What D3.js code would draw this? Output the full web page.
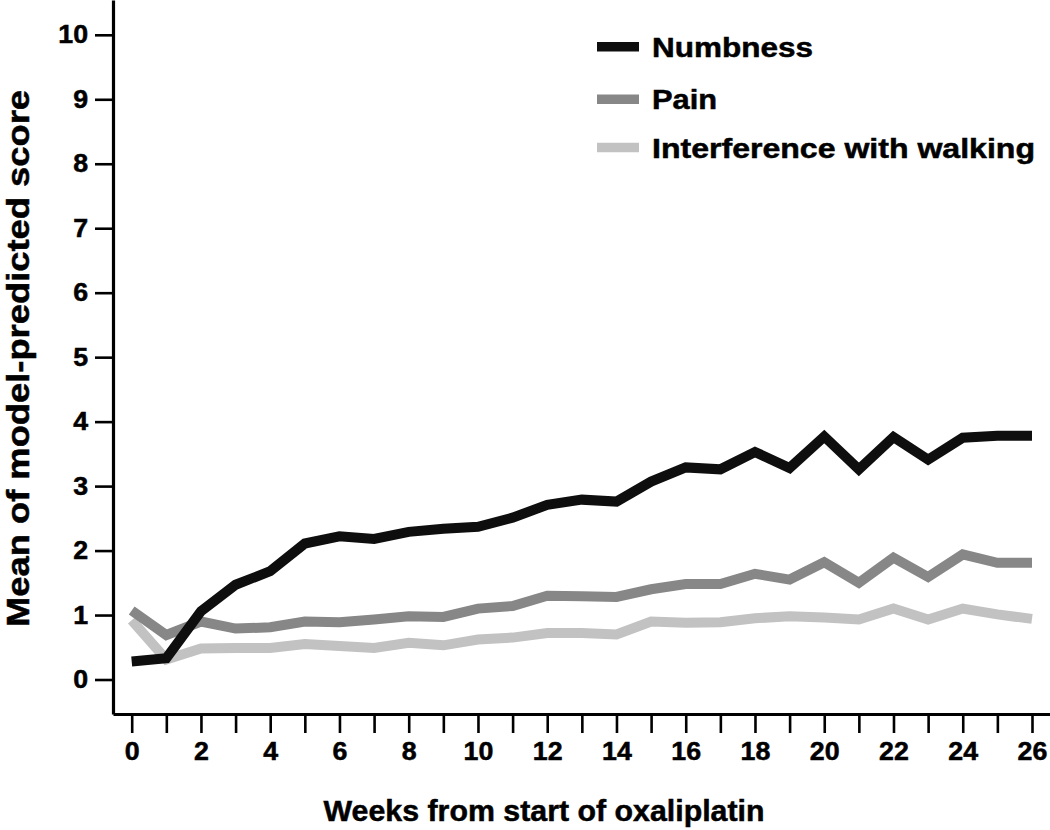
<!DOCTYPE html>
<html>
<head>
<meta charset="utf-8">
<script src="https://cdn.jsdelivr.net/npm/d3@7"></script>
<style>
  html, body { margin: 0; padding: 0; background: #fff; }
  svg { display: block; }
  text { font-family: "Liberation Sans", Arial, sans-serif; font-weight: bold; fill: #000; stroke: #000; stroke-width: 0.5px; }
</style>
</head>
<body>
<script>
// ---- data ----
const weeks = d3.range(0, 27);
const numbness = [0.28,0.33,1.06,1.47,1.68,2.11,2.22,2.18,2.29,2.34,2.37,2.51,2.71,2.79,2.76,3.07,3.29,3.26,3.53,3.28,3.77,3.26,3.76,3.41,3.75,3.78,3.78];
const pain = [1.07,0.69,0.90,0.79,0.81,0.90,0.89,0.93,0.98,0.97,1.10,1.14,1.30,1.29,1.28,1.40,1.48,1.48,1.64,1.55,1.82,1.50,1.89,1.59,1.94,1.81,1.81];
const interference = [0.92,0.31,0.48,0.49,0.49,0.55,0.52,0.49,0.57,0.53,0.62,0.65,0.72,0.72,0.70,0.90,0.88,0.89,0.95,0.98,0.96,0.93,1.10,0.93,1.10,1.01,0.94];
const seriesNames = ["Numbness", "Pain", "Interference with walking"];
const seriesValues = [numbness, pain, interference];
const seriesColors = ["#0e0e0e", "#878787", "#c2c2c2"];
const yTicks = d3.range(0, 11);
const xTicks = d3.range(0, 27);
const xTitle = "Weeks from start of oxaliplatin";
const yTitle = "Mean of model-predicted score";

// ---- layout ----
const W = 1050, H = 830;
const svg = d3.select("body").append("svg").attr("width", W).attr("height", H);

const x = d3.scaleLinear().domain([-0.54, 26.52]).range([113, 1050]);
const y = d3.scaleLinear().domain([-0.535, 10.54]).range([714, 0]);

function stretch(sel, f) {
  sel.each(function () {
    const l = this.getComputedTextLength();
    d3.select(this).attr("textLength", l * f).attr("lengthAdjust", "spacingAndGlyphs");
  });
}

// y axis
const gy = svg.append("g").attr("transform", "translate(113,0)")
  .call(d3.axisLeft(y).tickValues(yTicks).tickSize(18).tickSizeOuter(0).tickPadding(7).tickFormat(d3.format("d")));
gy.select(".domain").attr("stroke", "#000").attr("stroke-width", 3.2);
gy.selectAll(".tick line").attr("stroke", "#000").attr("stroke-width", 2.6);
gy.selectAll(".tick text").style("font-size", "25px").attr("fill", "#000");
stretch(gy.selectAll(".tick text"), 1.07);

// x axis
const gx = svg.append("g").attr("transform", "translate(0,714)")
  .call(d3.axisBottom(x).tickValues(xTicks).tickSize(19).tickSizeOuter(0).tickPadding(9)
    .tickFormat(d => d % 2 === 0 ? d : ""));
gx.select(".domain").attr("stroke", "#000").attr("stroke-width", 3.2);
gx.selectAll(".tick line").attr("stroke", "#000").attr("stroke-width", 2.6);
gx.selectAll(".tick text").style("font-size", "25px").attr("fill", "#000");
stretch(gx.selectAll(".tick text").filter(function () { return this.textContent !== ""; }), 1.07);

// lines (draw lightest first so black is on top)
const line = d3.line().x((d, i) => x(weeks[i])).y(d => y(d));
const order = [2, 1, 0];
order.forEach(k => {
  svg.append("path")
    .datum(seriesValues[k])
    .attr("d", line)
    .attr("fill", "none")
    .attr("stroke", seriesColors[k])
    .attr("stroke-width", 10)
    .attr("stroke-linejoin", "miter")
    .attr("stroke-linecap", "butt");
});

// legend
const legendY = [46.7, 99.3, 147.6];
const legendText = [161, 65, 383];
const lg = svg.append("g");
seriesNames.forEach((name, i) => {
  lg.append("line")
    .attr("x1", 597).attr("x2", 639)
    .attr("y1", legendY[i]).attr("y2", legendY[i])
    .attr("stroke", seriesColors[i]).attr("stroke-width", 9.5);
  lg.append("text")
    .attr("x", 652).attr("y", legendY[i] + 10)
    .style("font-size", "27px")
    .attr("textLength", legendText[i]).attr("lengthAdjust", "spacingAndGlyphs")
    .text(name);
});

// axis titles
svg.append("text")
  .attr("x", 544).attr("y", 821)
  .attr("text-anchor", "middle")
  .style("font-size", "30px")
  .attr("textLength", 441).attr("lengthAdjust", "spacingAndGlyphs")
  .text(xTitle);

svg.append("text")
  .attr("transform", "translate(29,358.5) rotate(-90)")
  .attr("text-anchor", "middle")
  .style("font-size", "31px")
  .attr("textLength", 537).attr("lengthAdjust", "spacingAndGlyphs")
  .text(yTitle);
</script>
</body>
</html>
